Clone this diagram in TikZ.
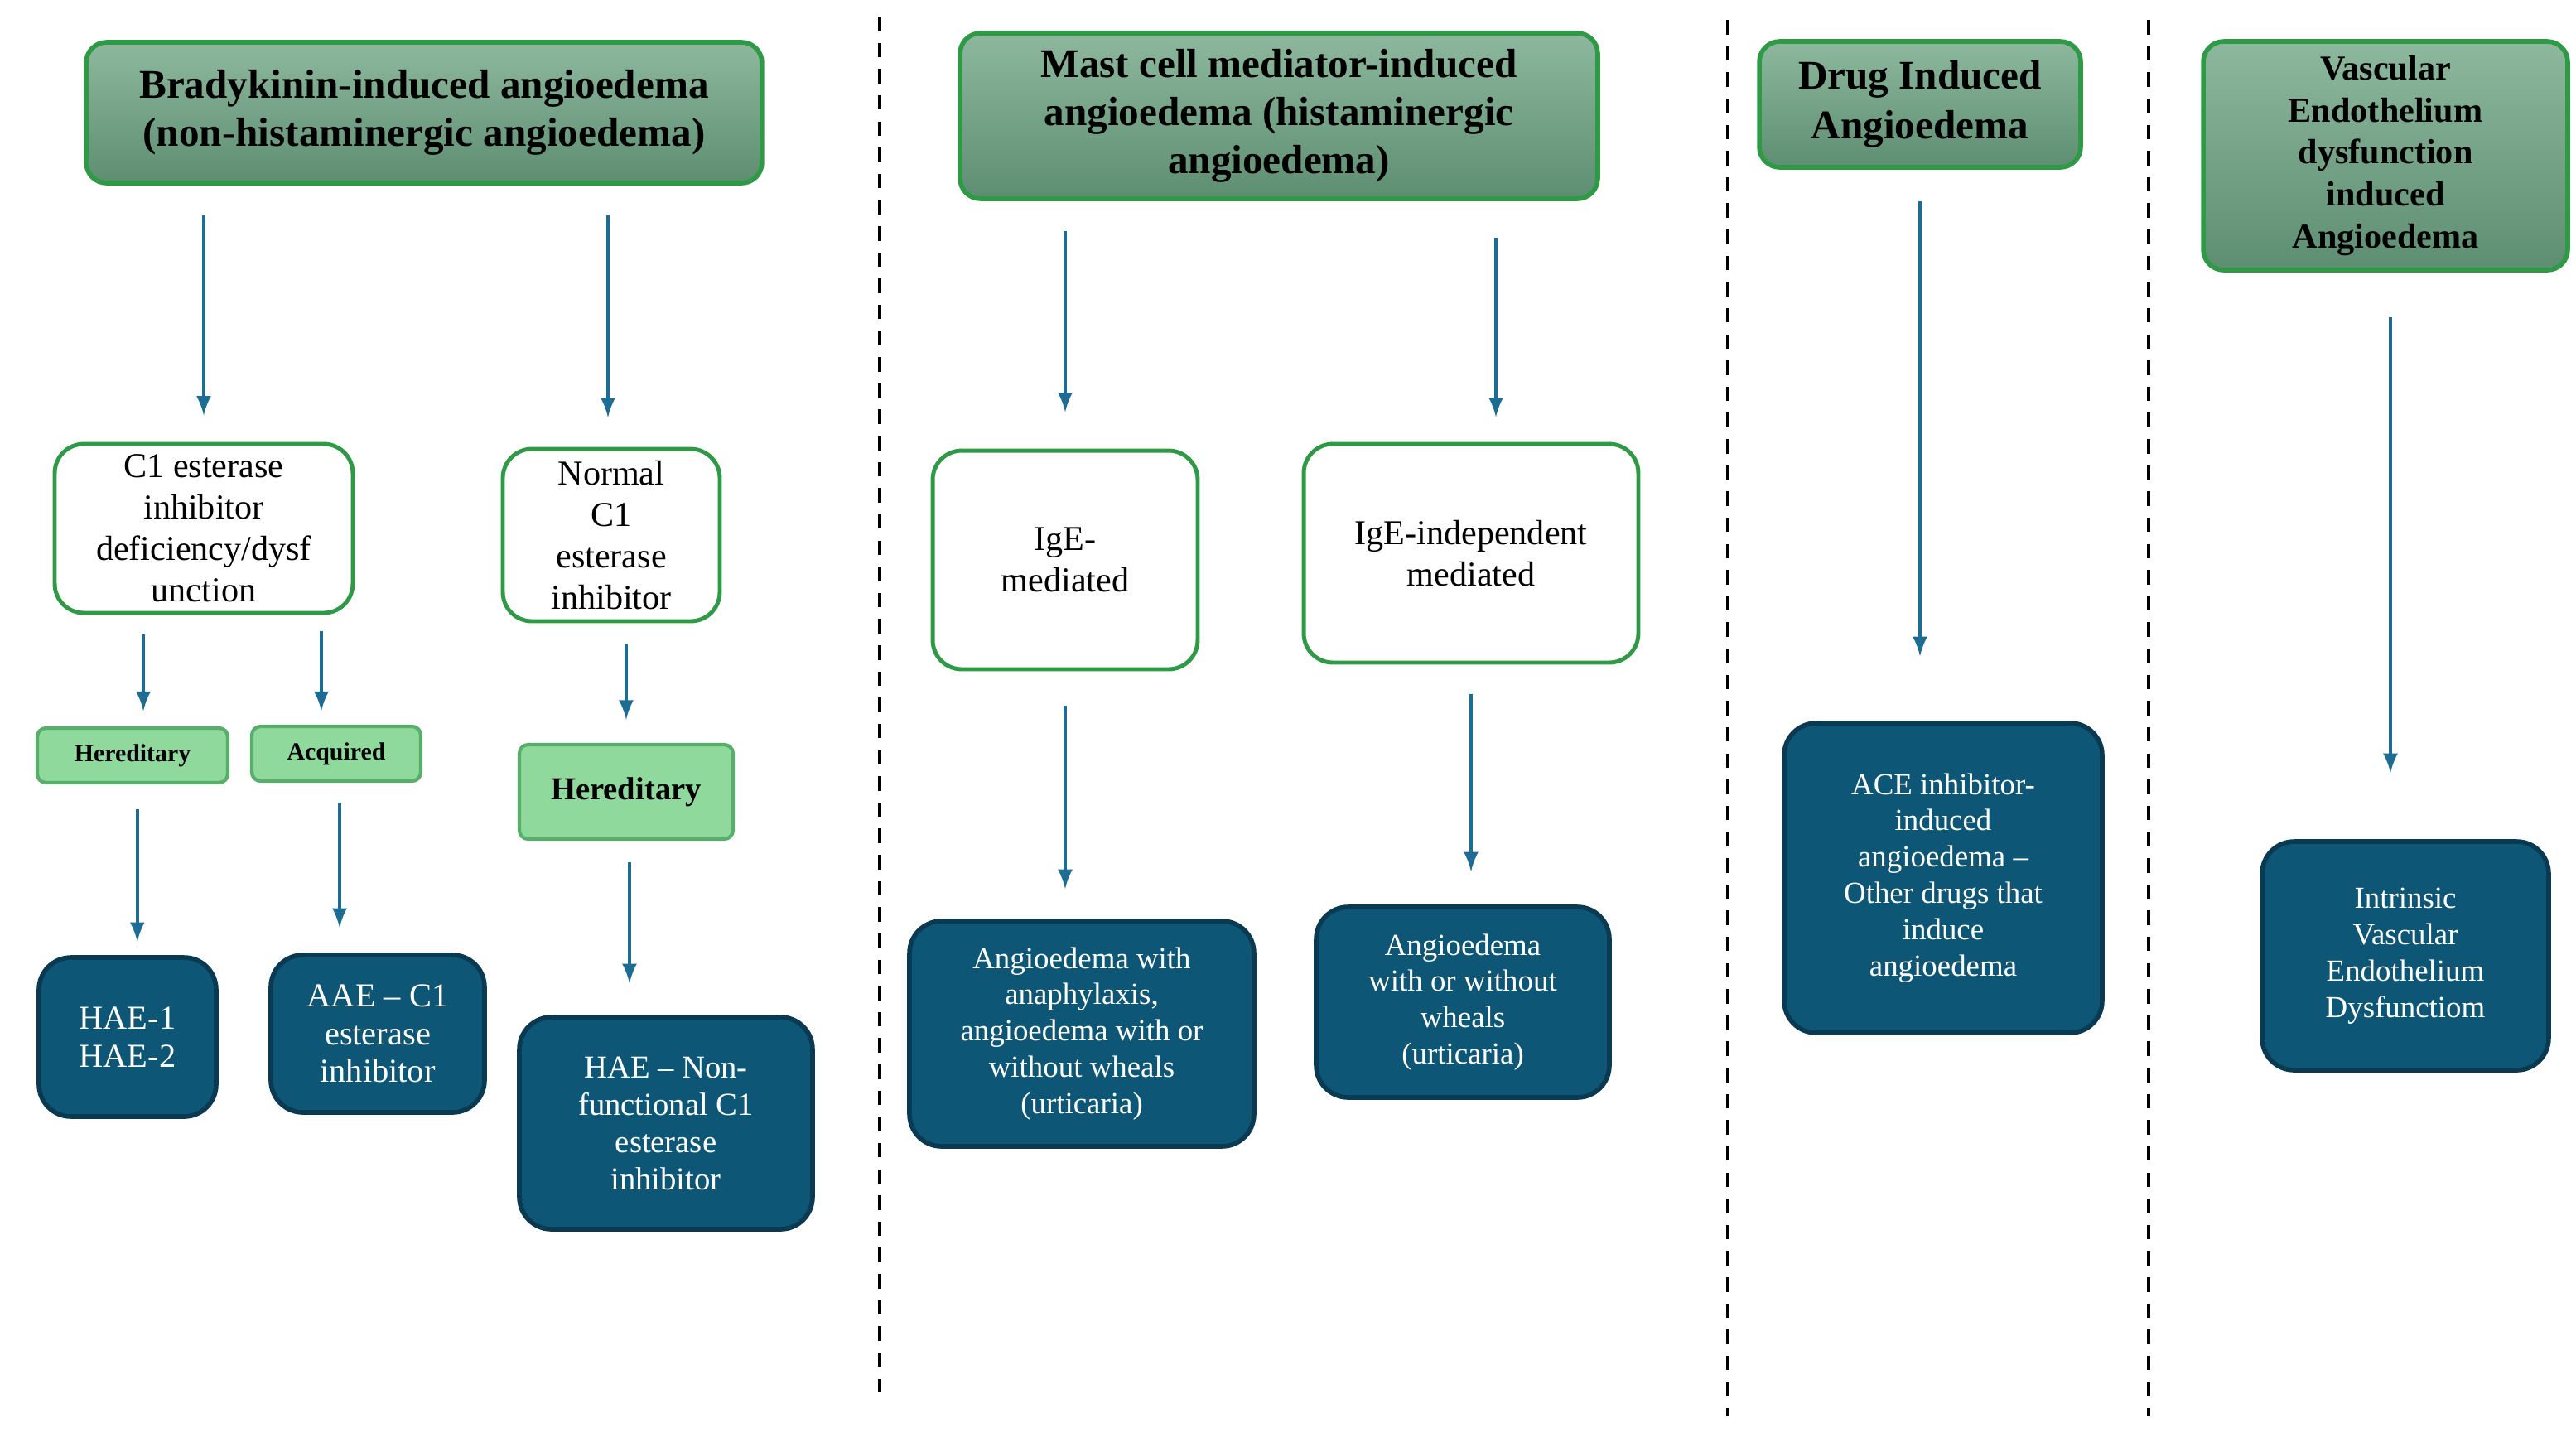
\documentclass[tikz,border=0pt]{standalone}
\usepackage{fontspec}
\setmainfont{Liberation Serif}
\usetikzlibrary{positioning}
\definecolor{hdrtop}{HTML}{8DB89E}
\definecolor{hdrbot}{HTML}{5E8E72}
\definecolor{grnline}{HTML}{2E9A45}
\definecolor{grnfill}{HTML}{8ED99B}
\definecolor{bluefill}{HTML}{0E5676}
\definecolor{blueline}{HTML}{0A3A52}
\definecolor{arrcol}{HTML}{1C6C93}

\tikzset{
  hdr/.style={draw=grnline, line width=1.6pt, rounded corners=7pt, top color=hdrtop, bottom color=hdrbot,
    align=center, font=\bfseries\fontsize{14}{16.5}\selectfont, inner sep=1pt},
  wbox/.style={draw=grnline, line width=1.4pt, rounded corners=10pt, fill=white,
    align=center, font=\fontsize{12}{14.2}\selectfont, inner sep=1pt},
  gbox/.style={draw=grnline!80, line width=1.2pt, rounded corners=3pt, fill=grnfill,
    align=center, font=\bfseries\fontsize{8.5}{10}\selectfont, inner sep=1pt},
  bbox/.style={draw=blueline, line width=1.6pt, rounded corners=11pt, fill=bluefill, text=white,
    align=center, font=\fontsize{10.5}{12.5}\selectfont, inner sep=1pt},
  arr/.style={draw=arrcol, line width=1.3pt, -latex, shorten <=0.3cm, shorten >=0.3cm},
  sep/.style={line width=1.2pt, dash pattern=on 5pt off 4pt}
}

\begin{document}
\begin{tikzpicture}[x=0.02cm, y=-0.02cm]
\useasboundingbox (0,0) rectangle (1555,873);
% headers
\node[hdr, minimum width=8.16cm, minimum height=1.70cm] (h1) at (256,68) {Bradykinin-induced angioedema\\(non-histaminergic angioedema)};
\node[hdr, minimum width=7.7cm, minimum height=2.0cm] (h2) at (772,70) {Mast cell mediator-induced\\angioedema (histaminergic\\angioedema)};
\node[hdr, minimum width=3.88cm, minimum height=1.52cm, font=\bfseries\fontsize{14}{17}\selectfont] (h3) at (1159,63) {Drug Induced\\Angioedema};
\node[hdr, minimum width=4.4cm, minimum height=2.76cm, font=\bfseries\fontsize{12}{14.5}\selectfont] (h4) at (1440,94) {Vascular\\Endothelium\\dysfunction\\induced\\Angioedema};
% second level
\node[wbox, minimum width=3.6cm, minimum height=2.04cm] (c1) at (123,319) {C1 esterase\\inhibitor\\deficiency/dysf\\unction};
\node[wbox, minimum width=2.62cm, minimum height=2.08cm] (nc1) at (369,323) {Normal\\C1\\esterase\\inhibitor};
\node[wbox, minimum width=3.2cm, minimum height=2.64cm] (ige) at (643,338) {IgE-\\mediated};
\node[wbox, minimum width=4.04cm, minimum height=2.64cm] (igi) at (888,334) {IgE-independent\\mediated};
% green tags
\node[gbox, minimum width=2.3cm, minimum height=0.66cm] (her1) at (80,456) {Hereditary};
\node[gbox, minimum width=2.04cm, minimum height=0.66cm] (acq) at (203,455) {Acquired};
\node[gbox, minimum width=2.58cm, minimum height=1.14cm, font=\bfseries\fontsize{11}{13}\selectfont] (her2) at (378,478) {Hereditary};
% blue boxes
\node[bbox, minimum width=2.14cm, minimum height=1.92cm, font=\fontsize{11.5}{13}\selectfont] (hae12) at (77,626) {HAE-1\\HAE-2};
\node[bbox, minimum width=2.58cm, minimum height=1.9cm, font=\fontsize{11.5}{13}\selectfont] (aae) at (228,624) {AAE -- C1\\esterase\\inhibitor};
\node[bbox, minimum width=3.54cm, minimum height=2.56cm, font=\fontsize{11}{12.8}\selectfont] (haenon) at (402,678) {HAE -- Non-\\functional C1\\esterase\\inhibitor};
\node[bbox, minimum width=4.16cm, minimum height=2.72cm] (ana) at (653,624) {Angioedema with\\anaphylaxis,\\angioedema with or\\without wheals\\(urticaria)};
\node[bbox, minimum width=3.54cm, minimum height=2.3cm] (ang) at (883,605) {Angioedema\\with or without\\wheals\\(urticaria)};
\node[bbox, minimum width=3.84cm, minimum height=3.74cm] (ace) at (1173,530) {ACE inhibitor-\\induced\\angioedema --\\Other drugs that\\induce\\angioedema};
\node[bbox, minimum width=3.46cm, minimum height=2.76cm] (intr) at (1452,577) {Intrinsic\\Vascular\\Endothelium\\Dysfunctiom};
% arrows
\draw[arr, shorten <=0.36cm, shorten >=0.32cm] (h1.south -| c1) -- (c1.north);
\draw[arr, shorten <=0.36cm, shorten >=0.38cm] (h1.south -| 367,0) -- (367,271);
\draw[arr, shorten <=0.24cm, shorten >=0.24cm] (c1.south -| her1.north east) ++(-52,0) -- ++(0,70);
\draw[arr, shorten <=0.2cm, shorten >=0.2cm] (c1.south -| acq) ++(-9,0) -- ++(0,68);
\draw[arr, shorten <=0.26cm, shorten >=0.28cm] (nc1.south -| her2) -- (her2.north);
\draw[arr, shorten <=0.3cm, shorten >=0.2cm] (her1.south -| hae12.north east) ++(-49,0) -- ++(0,105);
\draw[arr, shorten <=0.24cm, shorten >=0.3cm] (acq.south -| 205,0) -- (aae.north -| 205,0);
\draw[arr, shorten <=0.26cm, shorten >=0.38cm] (her2.south -| 380,0) -- (haenon.north -| 380,0);
\draw[arr, shorten <=0.36cm, shorten >=0.44cm] (h2.south -| ige) -- (ige.north);
\draw[arr, shorten <=0.44cm, shorten >=0.3cm] (h2.south -| 903,0) -- (igi.north -| 903,0);
\draw[arr, shorten <=0.42cm, shorten >=0.36cm] (ige.south) -- (ana.north -| ige);
\draw[arr, shorten <=0.36cm, shorten >=0.4cm] (igi.south) -- (ang.north -| igi);
\draw[arr, shorten <=0.38cm, shorten >=0.78cm] (h3.south) -- (ace.north -| h3);
\draw[arr, shorten <=0.54cm, shorten >=0.8cm] (h4.south -| 1443,0) -- (intr.north -| 1443,0);
% separators
\draw[sep] (531,10) -- (531,840);
\draw[sep] (1043,12) -- (1043,855);
\draw[sep] (1297,12) -- (1297,855);
\end{tikzpicture}
\end{document}
